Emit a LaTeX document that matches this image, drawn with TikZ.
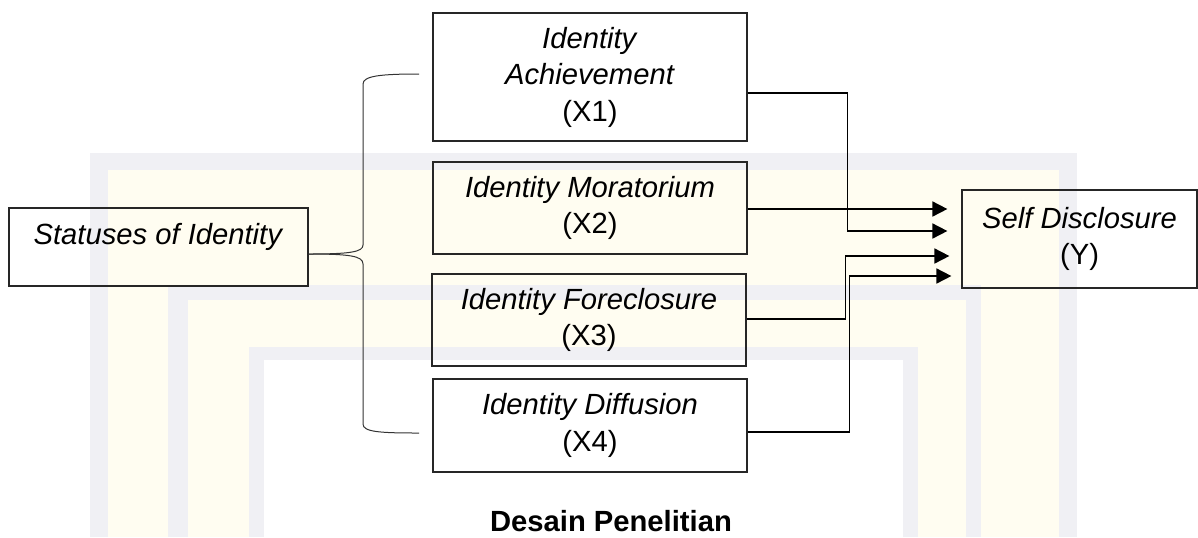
\documentclass[tikz,border=0pt]{standalone}
\usepackage{fontspec}
\setmainfont{Liberation Sans}
\usetikzlibrary{arrows.meta,calc}
\definecolor{wmgray}{RGB}{240,240,244}
\definecolor{wmyellow}{RGB}{255,253,241}
\begin{document}
\begin{tikzpicture}[x=0.5pt,y=-0.5pt,
  box/.style={draw=black!85, line width=0.6pt, inner sep=0pt, align=center,
    font=\fontsize{14.6}{18.25}\selectfont},
  txt/.style={inner sep=0pt, align=center, font=\fontsize{14.6}{18.25}\selectfont},
  conn/.style={line width=0.85pt, -{Triangle[length=7.5pt,width=7.5pt]}},
  bracestyle/.style={line width=0.5pt, draw=black!80}]
\useasboundingbox (0,0) rectangle (1198,537);
% faint watermark frames
\fill[wmgray] (90,153) rectangle (1077,537);
\fill[wmyellow] (108,170) rectangle (1059,537);
\fill[wmgray] (168,285) rectangle (981,537);
\fill[wmyellow] (188,300) rectangle (966,537);
\fill[wmgray] (249,347) rectangle (918,537);
\fill[white] (264,360) rectangle (903,537);
% boxes
\node[box, minimum width=149.5pt, minimum height=39pt] (S) at (158.5,247) {};
\node[txt] (St) at (158.5,237) {\textit{Statuses of Identity}};
\node[box, minimum width=157pt, minimum height=64pt] (X1) at (590,77)
  {\textit{Identity}\\\textit{Achievement}\\(X1)};
\node[box, minimum width=157pt, minimum height=46pt] (X2) at (590,208)
  {\textit{Identity Moratorium}\\(X2)};
\node[box, minimum width=157pt, minimum height=46pt] (X3) at (589,320)
  {\textit{Identity Foreclosure}\\(X3)};
\node[box, minimum width=157pt, minimum height=46.5pt] (X4) at (590,425.5)
  {\textit{Identity Diffusion}\\(X4)};
\node[box, minimum width=117.5pt, minimum height=49pt] (Y) at (1079.5,239)
  {\textit{Self Disclosure}\\(Y)};
\node[txt, anchor=base, font=\fontsize{14.6}{18.25}\selectfont\bfseries] (cap) at (611,531)
  {Desain Penelitian};
% brace
\coordinate (bt) at (419,74);
\coordinate (bb) at (419,433);
\draw[bracestyle] ([yshift=-3.5pt]S.east) .. controls (350,254) and (363,252) .. (363,245)
  -- (363,84) .. controls (363,76) and (380,74) .. (bt);
\draw[bracestyle] ([yshift=-3.5pt]S.east) .. controls (350,254) and (363,256) .. (363,264)
  -- (363,424) .. controls (363,432) and (380,433) .. (bb);
% connectors
\draw[conn, shorten >=7pt] ([yshift=-8pt]X1.east) -- ++(100,0) |- ([yshift=4pt]Y.west);
\draw[conn, shorten >=7pt] ([yshift=-0.5pt]X2.east) -- ([yshift=15pt]Y.west);
\draw[conn, shorten >=6pt] ([yshift=0.5pt]X3.east) -- ++(99,0) |- ([yshift=-8.5pt]Y.west);
\draw[conn, shorten >=5pt] ([yshift=-3.25pt]X4.east) -- ++(102,0) |- ([yshift=-18.5pt]Y.west);
\end{tikzpicture}
\end{document}
